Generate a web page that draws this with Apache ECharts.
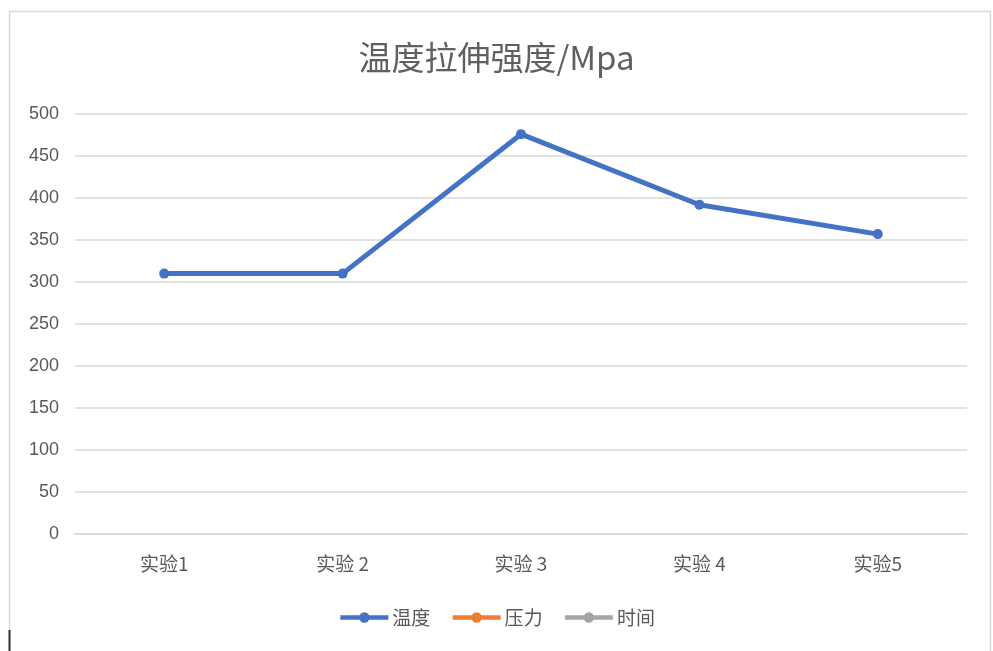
<!DOCTYPE html>
<html>
<head>
<meta charset="utf-8">
<script src="https://cdn.jsdelivr.net/npm/echarts@6/dist/echarts.min.js"></script>
<style>
  html, body { margin: 0; padding: 0; background: #ffffff; }
  #chart { width: 993px; height: 651px; }
</style>
</head>
<body>
<div id="chart"></div>
<script>
// Tensile strength per experiment
const categories = ['实验1', '实验 2', '实验 3', '实验 4', '实验5'];
const temperature = [310, 310, 476, 392, 357];
const pressure = [];
const time = [];
const seriesNames = ['温度', '压力', '时间'];
const seriesColors = ['#4472C4', '#ED7D31', '#A5A5A5'];

const textColor = '#595959';
const gridColor = '#d9d9d9';

const chart = echarts.init(document.getElementById('chart'));

function lineSeries(name, data, color) {
  return {
    name: name,
    type: 'line',
    data: data,
    symbol: 'circle',
    symbolSize: 10,
    color: color,
    lineStyle: { width: 5, color: color },
    itemStyle: { color: color },
    animation: false
  };
}

chart.setOption({
  backgroundColor: '#ffffff',
  title: {
    text: '温度拉伸强度/Mpa',
    left: 'center',
    top: 36,
    textStyle: {
      fontFamily: 'Noto Sans CJK SC',
      fontSize: 33,
      fontWeight: 'normal',
      color: '#606060'
    }
  },
  legend: {
    bottom: 19,
    left: 'center',
    itemWidth: 48,
    itemHeight: 13,
    itemGap: 20,
    data: seriesNames,
    lineStyle: { width: 4.5 },
    textStyle: {
      fontFamily: 'Noto Sans CJK SC',
      fontSize: 19,
      color: textColor,
      padding: [0, 0, 0, -1]
    }
  },
  grid: {
    left: 75,
    right: 26,
    top: 114,
    bottom: 117
  },
  xAxis: {
    type: 'category',
    data: categories,
    boundaryGap: true,
    axisLine: { show: true, lineStyle: { color: gridColor, width: 1.5 } },
    axisTick: { show: false },
    axisLabel: {
      margin: 20,
      fontFamily: 'Noto Sans CJK SC',
      fontSize: 19,
      color: textColor
    }
  },
  yAxis: {
    type: 'value',
    min: 0,
    max: 500,
    interval: 50,
    axisLine: { show: false },
    axisTick: { show: false },
    splitLine: { lineStyle: { color: gridColor, width: 1.5 } },
    axisLabel: {
      margin: 16,
      fontFamily: 'Liberation Sans',
      fontSize: 18,
      color: textColor
    }
  },
  graphic: [
    {
      type: 'polyline',
      shape: { points: [[9.5, 660], [9.5, 11.5], [990.5, 11.5], [990.5, 660]] },
      style: { stroke: gridColor, lineWidth: 1.5, fill: null },
      silent: true
    },
    {
      type: 'line',
      shape: { x1: 9.5, y1: 630, x2: 9.5, y2: 651 },
      style: { stroke: '#333333', lineWidth: 2 },
      silent: true
    }
  ],
  series: [
    lineSeries(seriesNames[0], temperature, seriesColors[0]),
    lineSeries(seriesNames[1], pressure, seriesColors[1]),
    lineSeries(seriesNames[2], time, seriesColors[2])
  ]
});
</script>
</body>
</html>
